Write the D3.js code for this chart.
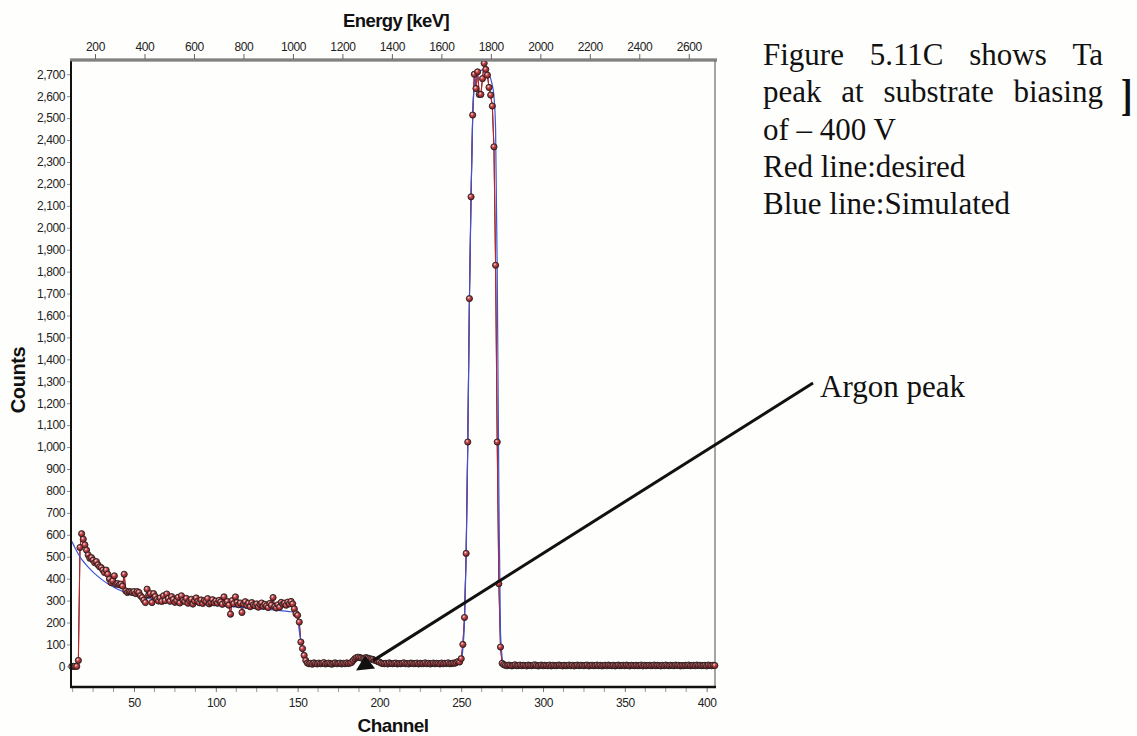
<!DOCTYPE html>
<html>
<head>
<meta charset="utf-8">
<script src="https://cdn.jsdelivr.net/npm/d3@7"></script>
<style>
  html, body { margin: 0; padding: 0; background: #fefefc; }
  svg { display: block; }
</style>
</head>
<body>
<svg id="chart" width="1137" height="736"></svg>
<script>
// RBS spectrum of a Ta film, substrate bias -400 V.
// Measured counts, one value per channel starting at firstChannel.
const firstChannel = 12;
const measuredCounts = [
  0, 0, 0, 0, 27,
  // 17-44
  542, 605, 580, 554, 530, 508, 493, 496, 484, 473, 478, 463, 454, 450, 439, 428, 439, 420, 398, 382,
  390, 413, 375, 378, 372, 375, 366, 420,
  // 45-70
  344, 337, 341, 340, 337, 341, 332, 341, 337, 322, 314, 302, 291, 352, 326, 332, 291, 332, 318, 305,
  298, 312, 296, 322, 300, 330,
  // 71-100
  310, 297, 318, 305, 292, 300, 315, 289, 322, 301, 296, 310, 288, 299, 306, 284, 298, 312, 295, 290,
  303, 287, 300, 296, 309, 285, 292, 304, 290, 298,
  // 101-130
  288, 301, 294, 283, 317, 290, 296, 279, 238, 300, 286, 317, 292, 281, 289, 246, 284, 295, 278, 288,
  272, 291, 280, 276, 285, 270, 282, 289, 274, 283,
  // 131-150
  276, 268, 287, 279, 314, 272, 266, 281, 270, 292, 284, 288, 279, 293, 285, 296, 285, 262, 240, 233,
  // 151-156
  202, 111, 81, 50, 27, 15,
  // 157-183
  12, 14, 10, 16, 13, 11, 15, 12, 14, 17, 11, 13, 15, 12, 10, 14, 16, 12, 13, 15, 11, 14, 12, 16, 13, 15, 18,
  // 184-200 argon
  27, 35, 40, 42, 40, 38, 36, 38, 40, 37, 35, 33, 32, 28, 27, 22, 20,
  // 201-248
  15, 13, 12, 14, 11, 16, 13, 12, 14, 15, 11, 13, 12, 14, 16, 12, 13, 11, 15, 14,
  12, 13, 15, 11, 14, 12, 13, 16, 12, 14, 11, 13, 15, 12, 14, 13, 11, 15, 12, 14,
  13, 16, 12, 13, 15, 14, 18, 22,
  // 249-276 Ta peak
  20, 35, 100, 223, 515, 1023, 1677, 2141, 2514, 2700, 2635, 2711, 2608, 2608, 2680, 2750, 2722, 2696,
  2640, 2605, 2555, 2369, 1829, 1023, 377, 88, 14, 8,
  // 277-405
  5, 3, 6, 4, 2, 5, 7, 3, 4, 6, 3, 5, 4, 2, 6, 4, 3, 5, 7, 4,
  2, 4, 6, 3, 5, 4, 3, 6, 2, 5, 4, 3, 5, 6, 4, 2, 5, 3, 4, 6,
  3, 5, 2, 4, 6, 3, 5, 4, 3, 5, 6, 2, 4, 5, 3, 4, 6, 3, 5, 2,
  4, 5, 3, 6, 4, 3, 5, 2, 4, 6, 3, 4, 5, 3, 6, 4, 2, 5, 4, 3,
  5, 3, 4, 6, 2, 5, 3, 4, 5, 3, 4, 6, 3, 5, 4, 2, 5, 3, 6, 4,
  3, 5, 4, 3, 6, 4, 5, 2, 4, 3, 5, 4, 6, 3, 4, 5, 3, 6, 4, 5,
  3, 4, 5, 2, 6, 4, 3, 5, 4
];

// Simulated spectrum (blue), read at selected channels.
const simChannels = [12, 14, 17, 20, 25, 30, 35, 40, 45, 50, 56, 66, 76, 86, 96, 107, 117, 127, 137, 145,
  148, 150, 151, 152, 153, 154, 156, 160, 183, 186, 190, 195, 199, 205, 248, 250, 251, 252, 253, 254,
  255, 256, 257, 258, 260, 263, 266, 268, 269, 270, 271, 272, 273, 274, 276, 405];
const simCounts = [570, 540, 499, 470, 430, 398, 372, 352, 336, 324, 313, 301, 293, 286, 280, 274, 268, 263, 256, 250,
  246, 225, 164, 110, 59, 35, 14, 10, 12, 30, 38, 35, 15, 10, 12, 30, 80, 200, 500, 1000,
  1650, 2150, 2500, 2640, 2700, 2720, 2710, 2680, 2650, 2600, 2450, 1800, 800, 150, 10, 5];

// Axis ticks
const countTicks = [0, 100, 200, 300, 400, 500, 600, 700, 800, 900, 1000, 1100, 1200, 1300, 1400,
  1500, 1600, 1700, 1800, 1900, 2000, 2100, 2200, 2300, 2400, 2500, 2600, 2700];
const channelLabels = [50, 100, 150, 200, 250, 300, 350, 400];
const channelMinor = [12.5, 25, 37.5, 62.5, 75, 87.5, 112.5, 125, 137.5, 162.5, 175, 187.5, 212.5, 225, 237.5,
  262.5, 275, 287.5, 312.5, 325, 337.5, 362.5, 375, 387.5];
const energyTicks = [200, 400, 600, 800, 1000, 1200, 1400, 1600, 1800, 2000, 2200, 2400, 2600];

const argonChannel = 190;
const argonCounts = 40;

const noteLines = [
  { words: ["Figure", "5.11C", "shows", "Ta"], justify: true },
  { words: ["peak", "at", "substrate", "biasing"], justify: true },
  { words: ["of – 400 V"], justify: false },
  { words: ["Red line:desired"], justify: false },
  { words: ["Blue line:Simulated"], justify: false }
];

// ---------------------------------------------------------------
const svg = d3.select("#chart");
const plot = { left: 71, right: 715, top: 60, bottom: 687 };

const x = d3.scaleLinear().domain([11.5, 405.1]).range([plot.left, plot.right]);
const xE = d3.scaleLinear().domain([103, 2706]).range([plot.left, plot.right]);
const y = d3.scaleLinear().domain([-94, 2765]).range([plot.bottom, plot.top]);

const sansFont = "'Liberation Sans', Arial, sans-serif";
const serifFont = "'Liberation Serif', 'Times New Roman', serif";

const measured = measuredCounts.map((c, i) => ({ ch: firstChannel + i, c }));
const sim = simChannels.map((ch, i) => ({ ch, c: simCounts[i] }));

// shaded marker fill
const defs = svg.append("defs");
const grad = defs.append("radialGradient").attr("id", "dotFill")
  .attr("cx", "38%").attr("cy", "35%").attr("r", "70%");
grad.append("stop").attr("offset", "0%").attr("stop-color", "#f4e4e4");
grad.append("stop").attr("offset", "35%").attr("stop-color", "#c8474c");
grad.append("stop").attr("offset", "100%").attr("stop-color", "#7a1015");

// frame
svg.append("line").attr("x1", plot.right).attr("x2", plot.right)
  .attr("y1", plot.top).attr("y2", plot.bottom)
  .attr("stroke", "#6a6a6a").attr("stroke-width", 1.2);

// curves
const lineGen = d3.line().x(d => x(d.ch)).y(d => y(d.c));
svg.append("path").datum(measured).attr("d", lineGen)
  .attr("fill", "none").attr("stroke", "#111").attr("stroke-width", 1);
svg.append("path").datum(measured).attr("d", lineGen)
  .attr("fill", "none").attr("stroke", "#d8232a").attr("stroke-width", 1.1).attr("opacity", 0.9);
svg.append("path").datum(sim)
  .attr("d", d3.line().x(d => x(d.ch)).y(d => y(d.c)).curve(d3.curveMonotoneX))
  .attr("fill", "none").attr("stroke", "#3b55d6").attr("stroke-width", 1.2);

// data points
svg.append("g").selectAll("circle").data(measured).join("circle")
  .attr("cx", d => x(d.ch)).attr("cy", d => y(d.c)).attr("r", 3.1)
  .attr("fill", "url(#dotFill)").attr("stroke", "#222").attr("stroke-width", 0.9);

// left axis
const yAxis = svg.append("g").attr("transform", `translate(${plot.left},0)`)
  .call(d3.axisLeft(y).tickValues(countTicks).tickSize(4).tickPadding(2).tickFormat(d3.format(",")));
yAxis.select(".domain").remove();
yAxis.selectAll(".tick line").attr("stroke", "#888");
yAxis.selectAll("text").attr("font-family", sansFont).attr("font-size", 12).attr("fill", "#222")
  .attr("letter-spacing", -0.4);
svg.append("line").attr("x1", plot.left).attr("x2", plot.left)
  .attr("y1", plot.top).attr("y2", plot.bottom + 1)
  .attr("stroke", "#111").attr("stroke-width", 2);

// bottom axis
const xAxis = svg.append("g").attr("transform", `translate(0,${plot.bottom})`)
  .call(d3.axisBottom(x).tickValues(channelLabels).tickSize(5).tickPadding(6));
xAxis.select(".domain").remove();
xAxis.selectAll(".tick line").attr("stroke", "#777");
xAxis.selectAll("text").attr("font-family", sansFont).attr("font-size", 12).attr("fill", "#222")
  .attr("letter-spacing", -0.4);
svg.append("g").selectAll("line").data(channelMinor).join("line")
  .attr("x1", d => x(d)).attr("x2", d => x(d))
  .attr("y1", plot.bottom).attr("y2", plot.bottom + 5)
  .attr("stroke", "#999");
svg.append("line").attr("x1", plot.left - 1).attr("x2", plot.right + 1)
  .attr("y1", plot.bottom).attr("y2", plot.bottom)
  .attr("stroke", "#111").attr("stroke-width", 2.4);

// top (energy) axis
const eAxis = svg.append("g").attr("transform", `translate(0,${plot.top})`)
  .call(d3.axisTop(xE).tickValues(energyTicks).tickSize(6).tickPadding(3).tickFormat(d3.format("d")));
eAxis.select(".domain").remove();
eAxis.selectAll(".tick line").attr("stroke", "#666");
eAxis.selectAll("text").attr("font-family", sansFont).attr("font-size", 12).attr("fill", "#222")
  .attr("letter-spacing", -0.4);
svg.append("line").attr("x1", plot.left - 1).attr("x2", plot.right + 2)
  .attr("y1", plot.top).attr("y2", plot.top)
  .attr("stroke", "#5a5a5a").attr("stroke-width", 3);
svg.append("line").attr("x1", plot.left - 1).attr("x2", plot.right + 2)
  .attr("y1", plot.top).attr("y2", plot.top)
  .attr("stroke", "#a8a8a8").attr("stroke-width", 1);

// axis titles
svg.append("text").text("Energy [keV]").attr("x", 396).attr("y", 27)
  .attr("text-anchor", "middle").attr("font-family", sansFont).attr("font-weight", "bold")
  .attr("font-size", 18.5).attr("letter-spacing", -0.6).attr("fill", "#111");
svg.append("text").text("Channel").attr("x", 393).attr("y", 732)
  .attr("text-anchor", "middle").attr("font-family", sansFont).attr("font-weight", "bold")
  .attr("font-size", 19).attr("letter-spacing", -0.6).attr("fill", "#111");
svg.append("text").text("Counts").attr("transform", "translate(25,380) rotate(-90)")
  .attr("text-anchor", "middle").attr("font-family", sansFont).attr("font-weight", "bold")
  .attr("font-size", 20).attr("letter-spacing", -0.4).attr("fill", "#111");

// annotation: Argon peak
const tipX = x(argonChannel), tipY = y(argonCounts);
svg.append("line").attr("x1", tipX + 10).attr("y1", tipY + 3)
  .attr("x2", 813).attr("y2", 383)
  .attr("stroke", "#111").attr("stroke-width", 3);
svg.append("path")
  .attr("d", `M${tipX - 7},${tipY + 13} L${tipX + 12},${tipY + 11} L${tipX + 2},${tipY - 2} Z`)
  .attr("fill", "#111");
svg.append("text").text("Argon peak").attr("x", 820).attr("y", 397)
  .attr("font-family", serifFont).attr("font-size", 31).attr("fill", "#111");

// side note, first two lines justified
const noteLeft = 763, noteRight = 1103, noteTop = 65, noteStep = 37.3;
noteLines.forEach((ln, li) => {
  const yy = noteTop + li * noteStep;
  const nodes = ln.words.map(w => svg.append("text").text(w).attr("y", yy)
    .attr("font-family", serifFont).attr("font-size", 31).attr("fill", "#111"));
  const widths = nodes.map(n => n.node().getComputedTextLength());
  const total = d3.sum(widths);
  const gap = ln.justify && nodes.length > 1 ? (noteRight - noteLeft - total) / (nodes.length - 1) : 8;
  let cx = noteLeft;
  nodes.forEach((n, i) => { n.attr("x", cx); cx += widths[i] + gap; });
});
svg.append("text").text("]").attr("transform", "translate(1121,110) scale(1,1.3)")
  .attr("font-family", serifFont).attr("font-weight", "bold").attr("font-size", 34).attr("fill", "#111");
</script>
</body>
</html>
